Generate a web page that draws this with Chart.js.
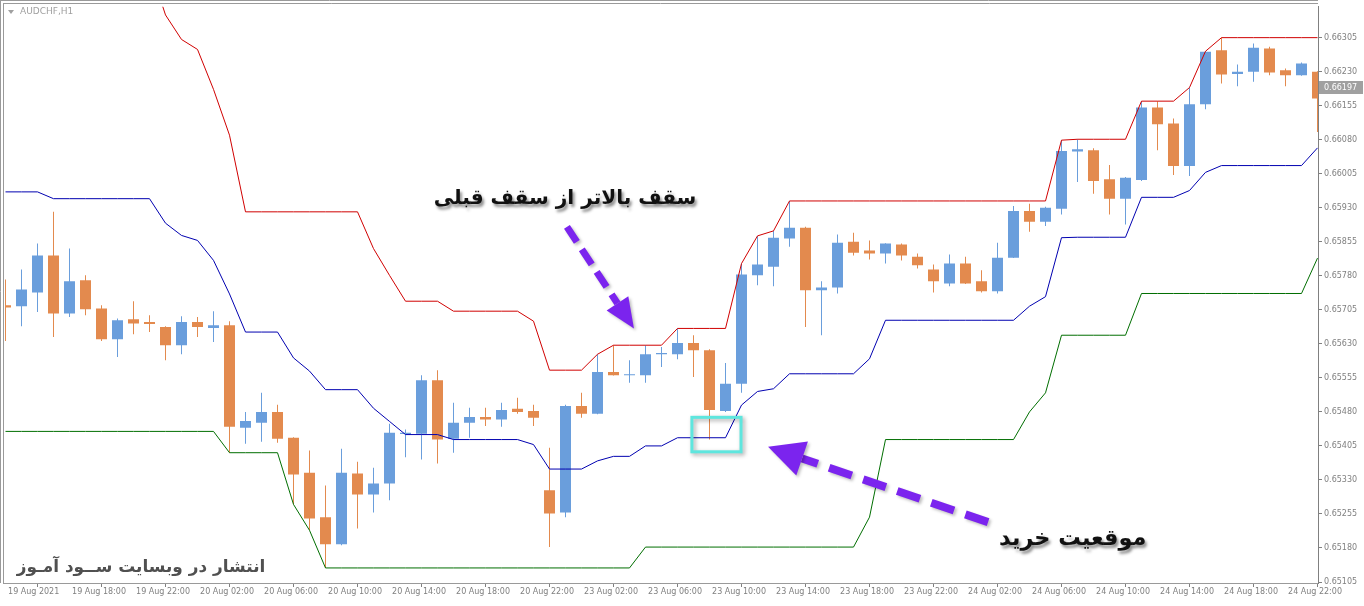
<!DOCTYPE html>
<html><head><meta charset="utf-8">
<script src="https://cdn.jsdelivr.net/npm/chart.js@4.4.1/dist/chart.umd.min.js"></script>
<style>html,body{margin:0;padding:0;background:#fff;overflow:hidden}canvas{display:block}</style>
</head><body>
<canvas id="c" width="1364" height="606"></canvas>
<script>
// ---------------- DATA ----------------
const symbolTitle = "AUDCHF,H1";
const lastPrice = 0.66197;
const xTickIndex = [0,4,8,12,16,20,24,28,32,36,40,44,48,52,56,60,64,68,72,76,80];
const xTickLabels = ["19 Aug 2021","19 Aug 18:00","19 Aug 22:00","20 Aug 02:00","20 Aug 06:00","20 Aug 10:00","20 Aug 14:00","20 Aug 18:00","20 Aug 22:00","23 Aug 02:00","23 Aug 06:00","23 Aug 10:00","23 Aug 14:00","23 Aug 18:00","23 Aug 22:00","24 Aug 02:00","24 Aug 06:00","24 Aug 10:00","24 Aug 14:00","24 Aug 18:00","24 Aug 22:00"];
const yTickValues = [0.65105,0.65180,0.65255,0.65330,0.65405,0.65480,0.65555,0.65630,0.65705,0.65780,0.65855,0.65930,0.66005,0.66080,0.66155,0.66230,0.66305];

const opens = [0.65715,0.65713,0.65743,0.65825,0.65697,0.65770,0.65708,0.65640,0.65684,0.65678,
0.65667,0.65627,0.65678,0.65665,0.65671,0.65445,0.65456,0.65480,0.65423,0.65346,
0.65248,0.65188,0.65344,0.65298,0.65322,0.65431,0.65432,0.65550,0.65421,0.65456,
0.65469,0.65463,0.65487,0.65482,0.65307,0.65258,0.65493,0.65476,0.65568,0.65561,
0.65561,0.65607,0.65607,0.65632,0.65616,0.65482,0.65542,0.65781,0.65800,0.65862,
0.65886,0.65748,0.65754,0.65855,0.65836,0.65829,0.65849,0.65822,0.65794,0.65763,
0.65807,0.65768,0.65746,0.65820,0.65923,0.65899,0.65928,0.66054,0.66057,0.65993,
0.65950,0.65991,0.66151,0.66116,0.66022,0.66158,0.66277,0.66225,0.66230,0.66281,
0.66233,0.66222,0.66230];
const highs = [0.65772,0.65794,0.65851,0.65921,0.65840,0.65781,0.65715,0.65686,0.65724,0.65693,
0.65669,0.65691,0.65689,0.65702,0.65680,0.65480,0.65522,0.65496,0.65424,0.65395,
0.65318,0.65399,0.65370,0.65357,0.65454,0.65441,0.65561,0.65572,0.65500,0.65489,
0.65489,0.65500,0.65511,0.65496,0.65401,0.65496,0.65522,0.65607,0.65627,0.65594,
0.65627,0.65623,0.65664,0.65649,0.65618,0.65588,0.65807,0.65868,0.65879,0.65945,
0.65888,0.65768,0.65871,0.65875,0.65858,0.65852,0.65851,0.65829,0.65805,0.65827,
0.65822,0.65792,0.65853,0.65934,0.65939,0.65932,0.66079,0.66081,0.66061,0.66024,
0.65998,0.66165,0.66165,0.66127,0.66195,0.66275,0.66305,0.66246,0.66292,0.66285,
0.66237,0.66250,0.66231];
const lows = [0.65636,0.65669,0.65700,0.65645,0.65689,0.65693,0.65636,0.65601,0.65651,0.65656,
0.65594,0.65607,0.65645,0.65634,0.65390,0.65410,0.65414,0.65412,0.65276,0.65219,
0.65136,0.65186,0.65223,0.65258,0.65285,0.65380,0.65375,0.65366,0.65390,0.65423,
0.65449,0.65447,0.65476,0.65449,0.65182,0.65248,0.65467,0.65475,0.65560,0.65544,
0.65544,0.65579,0.65596,0.65557,0.65419,0.65480,0.65522,0.65759,0.65757,0.65844,
0.65667,0.65649,0.65741,0.65825,0.65816,0.65807,0.65814,0.65796,0.65743,0.65757,
0.65762,0.65743,0.65741,0.65819,0.65877,0.65890,0.65915,0.65987,0.65961,0.65915,
0.65893,0.65989,0.66057,0.66002,0.66000,0.66147,0.66204,0.66198,0.66208,0.66222,
0.66198,0.66221,0.66097];
const closes = [0.65710,0.65750,0.65825,0.65697,0.65768,0.65706,0.65640,0.65682,0.65675,0.65674,
0.65627,0.65678,0.65667,0.65671,0.65447,0.65460,0.65480,0.65421,0.65342,0.65245,
0.65188,0.65346,0.65298,0.65322,0.65434,0.65434,0.65550,0.65419,0.65456,0.65469,
0.65463,0.65484,0.65480,0.65467,0.65256,0.65493,0.65476,0.65568,0.65561,0.65563,
0.65607,0.65610,0.65632,0.65616,0.65484,0.65542,0.65783,0.65805,0.65864,0.65886,
0.65748,0.65754,0.65853,0.65831,0.65829,0.65851,0.65825,0.65803,0.65768,0.65807,
0.65763,0.65746,0.65820,0.65923,0.65899,0.65930,0.66055,0.66059,0.65989,0.65950,
0.65996,0.66151,0.66114,0.66022,0.66158,0.66274,0.66224,0.66230,0.66283,0.66228,
0.66222,0.66248,0.66171];
const upperBand = [0.66493,0.66493,0.66493,0.66463,0.66463,0.66463,0.66463,0.66463,0.66463,0.66463,
0.66355,0.66301,0.66279,0.66191,0.66090,0.65921,0.65921,0.65921,0.65921,0.65921,
0.65921,0.65921,0.65921,0.65840,0.65781,0.65724,0.65724,0.65724,0.65702,0.65702,
0.65702,0.65702,0.65702,0.65680,0.65572,0.65572,0.65572,0.65607,0.65627,0.65627,
0.65627,0.65627,0.65664,0.65664,0.65664,0.65664,0.65807,0.65868,0.65879,0.65945,
0.65945,0.65945,0.65945,0.65945,0.65945,0.65945,0.65945,0.65945,0.65945,0.65945,
0.65945,0.65945,0.65945,0.65945,0.65945,0.65945,0.66079,0.66081,0.66081,0.66081,
0.66081,0.66165,0.66165,0.66165,0.66195,0.66275,0.66305,0.66305,0.66305,0.66305,
0.66305,0.66305,0.66305];
const middleBand = [0.65965,0.65965,0.65965,0.65950,0.65950,0.65950,0.65950,0.65950,0.65950,0.65950,
0.65896,0.65869,0.65858,0.65814,0.65740,0.65656,0.65656,0.65656,0.65599,0.65570,
0.65529,0.65529,0.65529,0.65488,0.65459,0.65430,0.65430,0.65430,0.65419,0.65419,
0.65419,0.65419,0.65419,0.65408,0.65354,0.65354,0.65354,0.65372,0.65382,0.65382,
0.65405,0.65405,0.65423,0.65423,0.65423,0.65423,0.65495,0.65525,0.65531,0.65564,
0.65564,0.65564,0.65564,0.65564,0.65597,0.65682,0.65682,0.65682,0.65682,0.65682,
0.65682,0.65682,0.65682,0.65682,0.65713,0.65734,0.65864,0.65865,0.65865,0.65865,
0.65865,0.65953,0.65953,0.65953,0.65968,0.66008,0.66023,0.66023,0.66023,0.66023,
0.66023,0.66023,0.66062];
const lowerBand = [0.65437,0.65437,0.65437,0.65437,0.65437,0.65437,0.65437,0.65437,0.65437,0.65437,
0.65437,0.65437,0.65437,0.65437,0.65390,0.65390,0.65390,0.65390,0.65276,0.65219,
0.65136,0.65136,0.65136,0.65136,0.65136,0.65136,0.65136,0.65136,0.65136,0.65136,
0.65136,0.65136,0.65136,0.65136,0.65136,0.65136,0.65136,0.65136,0.65136,0.65136,
0.65182,0.65182,0.65182,0.65182,0.65182,0.65182,0.65182,0.65182,0.65182,0.65182,
0.65182,0.65182,0.65182,0.65182,0.65248,0.65419,0.65419,0.65419,0.65419,0.65419,
0.65419,0.65419,0.65419,0.65419,0.65480,0.65522,0.65649,0.65649,0.65649,0.65649,
0.65649,0.65741,0.65741,0.65741,0.65741,0.65741,0.65741,0.65741,0.65741,0.65741,
0.65741,0.65741,0.65819];

// annotation anchors in data units (bar index, price)
const noteHigh = {text: "سقف بالاتر از سقف قبلی", x: 34.97, y: 0.65950, w: 263};
const noteBuy = {text: "موقعیت خرید", x: 66.7, y: 0.65199, w: 147};
const watermark = {text: "انتشار در وبسایت ســود آمـوز", w: 248};
const arrowHigh = {x1: 35.09, y1: 0.65888, x2: 39.28, y2: 0.65664};
const arrowBuy = {x1: 61.41, y1: 0.65237, x2: 47.66, y2: 0.65403};
const buyBox = {x0: 42.9, x1: 45.97, y0: 0.65468, y1: 0.65392};

// ---------------- STYLE ----------------
const BULL = '#6a9edc', BEAR = '#e38a4e';
const AXIS = '#808080';
const FONT = 'DejaVu Sans';

const idx = opens.map((_, i) => i);
const up = i => closes[i] >= opens[i];
const candleColor = ctx => up(ctx.dataIndex) ? BULL : BEAR;

function fitFont(ctx, text, weight, targetW) {
  ctx.font = weight + ' 20px "' + FONT + '"';
  const w = ctx.measureText(text).width;
  return 20 * targetW / w;
}
function drawArrow(ctx, x1, y1, x2, y2, lw, dash, headLen, headHalf, color) {
  const a = Math.atan2(y2 - y1, x2 - x1);
  const bx = x2 - headLen * Math.cos(a), by = y2 - headLen * Math.sin(a);
  ctx.save();
  ctx.shadowColor = 'rgba(0,0,0,0.25)'; ctx.shadowBlur = 3; ctx.shadowOffsetX = 2; ctx.shadowOffsetY = 2;
  ctx.strokeStyle = color; ctx.lineWidth = lw; ctx.setLineDash(dash); ctx.lineCap = 'butt';
  ctx.beginPath(); ctx.moveTo(x1, y1); ctx.lineTo(bx, by); ctx.stroke();
  ctx.setLineDash([]);
  ctx.fillStyle = color; ctx.beginPath(); ctx.moveTo(x2, y2);
  ctx.lineTo(bx + headHalf * Math.sin(a), by - headHalf * Math.cos(a));
  ctx.lineTo(bx - headHalf * Math.sin(a), by + headHalf * Math.cos(a));
  ctx.closePath(); ctx.fill();
  ctx.restore();
}

const overlay = {
  id: 'overlay',
  beforeDraw(chart) {
    const c = chart.ctx;
    c.save(); c.fillStyle = '#fff'; c.fillRect(0, 0, chart.width, chart.height); c.restore();
  },
  afterDraw(chart) {
    const c = chart.ctx, xs = chart.scales.x, ys = chart.scales.y, ca = chart.chartArea;
    c.save();
    // frame
    c.strokeStyle = '#9a9a9a'; c.lineWidth = 1;
    c.beginPath();
    c.moveTo(0.5, 0); c.lineTo(0.5, ca.bottom);
    c.moveTo(3.5, 3); c.lineTo(3.5, ca.bottom);
    c.moveTo(0, 0.5); c.lineTo(ca.right, 0.5);
    c.moveTo(3, 3.5); c.lineTo(ca.right, 3.5);
    c.moveTo(3, ca.bottom + 0.5); c.lineTo(ca.right, ca.bottom + 0.5);
    c.stroke();
    // title
    c.fillStyle = '#a0a0a0';
    c.beginPath(); c.moveTo(8, 10); c.lineTo(14, 10); c.lineTo(11, 14); c.closePath(); c.fill();
    c.font = '9px "' + FONT + '"'; c.textBaseline = 'middle'; c.textAlign = 'left';
    c.fillText(symbolTitle, 20, 12);
    // last price label
    const py = Math.round(ys.getPixelForValue(lastPrice));
    c.fillStyle = '#a0a0a0'; c.fillRect(ca.right + 1, py - 6, 44, 13);
    c.fillStyle = '#ffffff'; c.font = '8px "' + FONT + '"';
    c.fillText(lastPrice.toFixed(5), ca.right + 6, py + 0.5);
    // buy box
    c.save();
    c.shadowColor = 'rgba(0,0,0,0.35)'; c.shadowBlur = 4; c.shadowOffsetX = 2; c.shadowOffsetY = 2;
    c.strokeStyle = '#5ee6de'; c.lineWidth = 3;
    const bx0 = xs.getPixelForValue(buyBox.x0), bx1 = xs.getPixelForValue(buyBox.x1);
    const by0 = ys.getPixelForValue(buyBox.y0), by1 = ys.getPixelForValue(buyBox.y1);
    c.strokeRect(bx0, by0, bx1 - bx0, by1 - by0);
    c.restore();
    // arrows
    const P = '#7b24ee';
    drawArrow(c, xs.getPixelForValue(arrowHigh.x1), ys.getPixelForValue(arrowHigh.y1),
      xs.getPixelForValue(arrowHigh.x2), ys.getPixelForValue(arrowHigh.y2), 7, [18, 9], 30, 13, P);
    drawArrow(c, xs.getPixelForValue(arrowBuy.x1), ys.getPixelForValue(arrowBuy.y1),
      xs.getPixelForValue(arrowBuy.x2), ys.getPixelForValue(arrowBuy.y2), 8, [24, 12], 36, 18, P);
    // notes
    c.direction = 'rtl'; c.textAlign = 'center'; c.textBaseline = 'middle';
    [noteHigh, noteBuy].forEach(n => {
      const s = fitFont(c, n.text, 'bold', n.w);
      c.save();
      c.font = 'bold ' + s.toFixed(1) + 'px "' + FONT + '"';
      c.shadowColor = 'rgba(0,0,0,0.45)'; c.shadowBlur = 3; c.shadowOffsetX = 2; c.shadowOffsetY = 3;
      c.fillStyle = '#111';
      c.fillText(n.text, xs.getPixelForValue(n.x), ys.getPixelForValue(n.y));
      c.restore();
    });
    const ws = fitFont(c, watermark.text, 'bold', watermark.w);
    c.font = 'bold ' + ws.toFixed(1) + 'px "' + FONT + '"';
    c.fillStyle = '#505050';
    c.fillText(watermark.text, ca.left + 136, ca.bottom - 15);
    c.restore();
  }
};

const lineDs = (data, color) => ({
  type: 'line', data: idx.map(i => ({x: i, y: data[i]})), borderColor: color,
  borderWidth: 1, pointRadius: 0, tension: 0, order: 0
});

new Chart(document.getElementById('c'), {
  type: 'line',
  data: {
    datasets: [
      lineDs(upperBand, '#d00000'),
      lineDs(middleBand, '#0000b0'),
      lineDs(lowerBand, '#006e00'),
      { type: 'bar', data: idx.map(i => ({x: i, y: [opens[i], closes[i]]})),
        backgroundColor: candleColor, grouped: false, maxBarThickness: 11,
        minBarLength: 1, borderWidth: 0, order: 1, clip: 0 },
      { type: 'bar', data: idx.map(i => ({x: i, y: [lows[i], highs[i]]})),
        backgroundColor: candleColor, grouped: false, maxBarThickness: 1,
        borderWidth: 0, order: 2, clip: 0 }
    ]
  },
  options: {
    responsive: false, devicePixelRatio: 1, animation: false, events: [],
    layout: { padding: { left: 5, top: 4, right: 0, bottom: 0 } },
    plugins: { legend: { display: false }, tooltip: { enabled: false } },
    scales: {
      x: {
        type: 'linear', min: -0.03125, max: 82.03125, offset: false,
        afterBuildTicks: s => { s.ticks = xTickIndex.map(v => ({ value: v })); },
        afterFit: s => { s.height = 23; },
        grid: { drawOnChartArea: false, drawTicks: true, tickLength: 4, color: AXIS },
        border: { display: true, color: AXIS },
        ticks: {
          autoSkip: false, maxRotation: 0, minRotation: 0, align: 'start', padding: 0,
          color: AXIS, font: { family: FONT, size: 8 },
          callback: v => { const k = xTickIndex.indexOf(v); return k < 0 ? '' : ' ' + xTickLabels[k]; }
        }
      },
      y: {
        type: 'linear', position: 'right', min: 0.651028, max: 0.66373,
        afterBuildTicks: s => { s.ticks = yTickValues.map(v => ({ value: v })); },
        afterFit: s => { s.width = 46; },
        grid: { drawOnChartArea: false, drawTicks: true, tickLength: 4, color: AXIS },
        border: { display: true, color: AXIS },
        ticks: { color: AXIS, padding: 2, font: { family: FONT, size: 8 }, callback: v => v.toFixed(5) }
      }
    }
  },
  plugins: [overlay]
});
</script>
</body></html>
